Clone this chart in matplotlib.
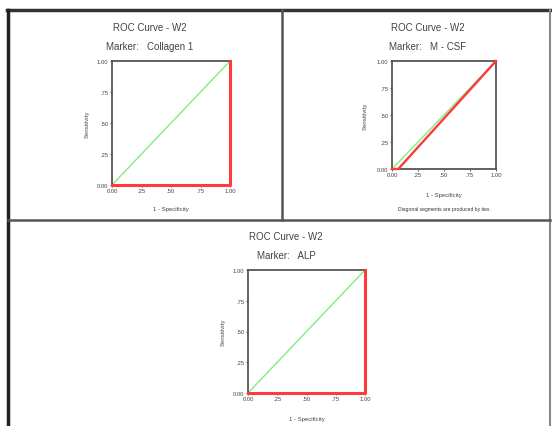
import matplotlib
matplotlib.use('Agg')
import matplotlib.pyplot as plt
from matplotlib.lines import Line2D

plt.rcParams['font.family'] = ['Liberation Sans', 'DejaVu Sans']

W, H = 552, 427

# ROC points (1 - specificity, sensitivity)
markers = ['Collagen 1', 'M - CSF', 'ALP']
fpr_collagen = [0.0, 1.0, 1.0]
tpr_collagen = [0.0, 0.0, 1.0]
fpr_mcsf = [0.0, 0.06, 1.0]
tpr_mcsf = [0.0, 0.0, 1.0]
fpr_alp = [0.0, 1.0, 1.0]
tpr_alp = [0.0, 0.0, 1.0]
ref_line = [0.0, 1.0]
ticks = [0.0, 0.25, 0.5, 0.75, 1.0]
tick_labels = ['0.00', '.25', '.50', '.75', '1.00']

title = 'ROC Curve - W2'
footnote = 'Diagonal segments are produced by ties.'


def px_axes(fig, x0, y0, x1, y1):
    return fig.add_axes([x0 / W, 1 - y1 / H, (x1 - x0) / W, (y1 - y0) / H])


def ftext(fig, x, y, s, **kw):
    fig.text(x / W, 1 - y / H, s, **kw)


def fline(fig, xs, ys, **kw):
    fig.add_artist(Line2D([x / W for x in xs], [1 - y / H for y in ys],
                          transform=fig.transFigure, **kw))


def roc_panel(fig, box, fpr, tpr, marker, cx, ty, ylab_x, xlab_y, note=False, lw=2.2):
    ax = px_axes(fig, *box)
    ax.plot(ref_line, ref_line, color='#7fef7f', lw=1.0, zorder=2)
    ax.plot(fpr, tpr, color='#ff3a3a', lw=lw, zorder=3, clip_on=False)
    ax.set_xlim(0, 1)
    ax.set_ylim(0, 1)
    ax.set_xticks(ticks)
    ax.set_yticks(ticks)
    ax.set_xticklabels(tick_labels)
    ax.set_yticklabels(tick_labels)
    ax.tick_params(labelsize=4.2, length=1.5, width=0.6, pad=1, colors='#444444')
    for s in ax.spines.values():
        s.set_color('#555555')
        s.set_linewidth(1.3)
    ftext(fig, cx, ty, title, ha='center', va='center', fontsize=7, color='#444444')
    ftext(fig, cx, ty + 19, 'Marker:   ' + marker, ha='center', va='center',
          fontsize=7, color='#444444')
    mid_y = (box[1] + box[3]) / 2
    ftext(fig, ylab_x, mid_y, 'Sensitivity', rotation=90, ha='center', va='center',
          fontsize=4.3, color='#444444')
    mid_x = (box[0] + box[2]) / 2
    ftext(fig, mid_x, xlab_y, '1 - Specificity', ha='center', va='center',
          fontsize=4.3, color='#444444')
    if note:
        ftext(fig, mid_x, xlab_y + 15, footnote, ha='center', va='center',
              fontsize=3.6, color='#333333')
    return ax


fig = plt.figure(figsize=(W / 100, H / 100), dpi=100)
fig.patch.set_facecolor('white')

roc_panel(fig, (112, 62, 230, 186), fpr_collagen, tpr_collagen, markers[0],
          150, 28, 87, 210)
roc_panel(fig, (392, 62, 496, 170), fpr_mcsf, tpr_mcsf, markers[1],
          428, 28, 365, 195, note=True, lw=1.7)
roc_panel(fig, (248, 271, 365, 394), fpr_alp, tpr_alp, markers[2],
          286, 237, 223, 420)

# panel frames
fline(fig, [7, 551], [11, 11], color='#333333', lw=2.5)
fline(fig, [8, 8], [11, 427], color='#222222', lw=2.5)
fline(fig, [550, 550], [11, 427], color='#888888', lw=1.5)
fline(fig, [282, 282], [11, 221], color='#555555', lw=1.8)
fline(fig, [8, 550], [221, 221], color='#555555', lw=1.8)

fig.savefig('out.png', dpi=100, facecolor='white')
